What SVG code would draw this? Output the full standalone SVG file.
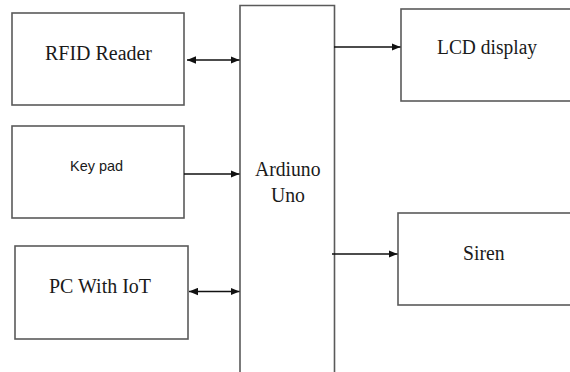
<svg xmlns="http://www.w3.org/2000/svg" width="570" height="372" viewBox="0 0 570 372">
<style>
.box{fill:#fff;stroke:#5a5a5a;stroke-width:1.6}
.lbl{font-family:"Liberation Serif","Times New Roman",serif;font-size:20.5px;fill:#1a1a1a}
.sans{font-family:"Liberation Sans",Arial,sans-serif;font-size:14.5px;fill:#1a1a1a}
.conn{stroke:#111;stroke-width:1.6;fill:none}
</style>
<defs>
<marker id="ah" markerUnits="userSpaceOnUse" markerWidth="10" markerHeight="8" refX="9" refY="4" orient="auto-start-reverse">
<path d="M0,0.3 L9,4 L0,7.7 z" fill="#111"/>
</marker>
</defs>
<rect width="570" height="372" fill="#fff"/>
<g id="rfid"><rect class="box" x="12" y="13" width="172" height="92"/><text class="lbl" x="45" y="59.5" textLength="107" lengthAdjust="spacingAndGlyphs">RFID Reader</text></g>
<g id="keypad"><rect class="box" x="12" y="126" width="172" height="92"/><text class="sans" x="70" y="170.5" textLength="53" lengthAdjust="spacingAndGlyphs">Key pad</text></g>
<g id="pc"><rect class="box" x="15" y="246" width="173" height="93"/><text class="lbl" x="49" y="293" textLength="102" lengthAdjust="spacingAndGlyphs">PC With IoT</text></g>
<g id="arduino"><path class="box" d="M240,380 V5.5 H334.5 V380"/><text class="lbl" x="255" y="175.5" textLength="65.5" lengthAdjust="spacingAndGlyphs">Ardiuno</text><text class="lbl" x="271" y="202" textLength="34" lengthAdjust="spacingAndGlyphs">Uno</text></g>
<g id="lcd"><rect class="box" x="401" y="9" width="175" height="92"/><text class="lbl" x="437" y="54" textLength="100" lengthAdjust="spacingAndGlyphs">LCD display</text></g>
<g id="siren"><rect class="box" x="398" y="213" width="178" height="92"/><text class="lbl" x="463" y="260" textLength="41.5" lengthAdjust="spacingAndGlyphs">Siren</text></g>
<g id="connectors">
<line class="conn" x1="187" y1="60" x2="239.5" y2="60" marker-start="url(#ah)" marker-end="url(#ah)"/>
<line class="conn" x1="184" y1="174" x2="239.5" y2="174" marker-end="url(#ah)"/>
<line class="conn" x1="189" y1="291.5" x2="239.5" y2="291.5" marker-start="url(#ah)" marker-end="url(#ah)"/>
<line class="conn" x1="334" y1="47" x2="400.5" y2="47" marker-end="url(#ah)"/>
<line class="conn" x1="332" y1="254" x2="397.5" y2="254" marker-end="url(#ah)"/>
</g>
</svg>
